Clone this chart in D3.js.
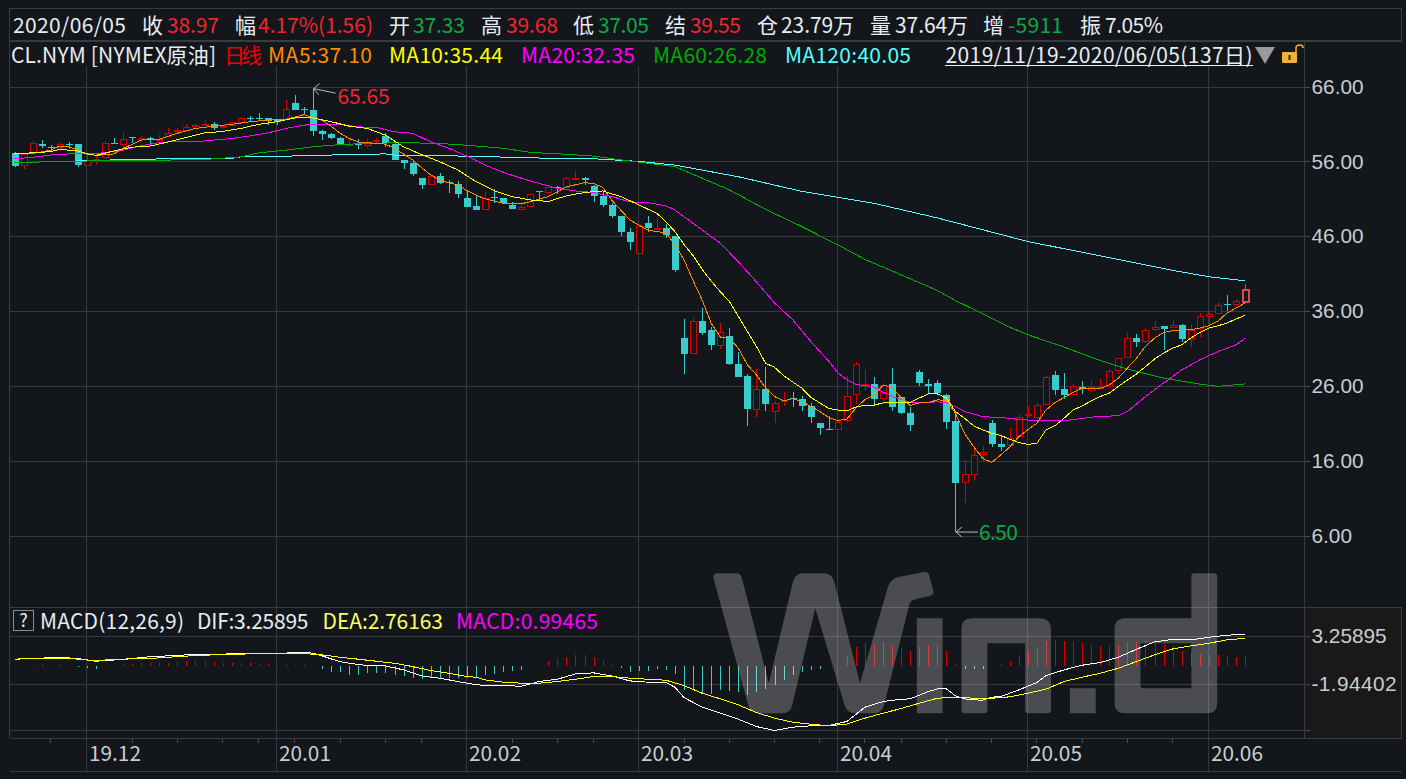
<!DOCTYPE html>
<html>
<head>
<meta charset="utf-8">
<script src="https://cdn.jsdelivr.net/npm/d3@7"></script>
<style>
  html, body { margin: 0; padding: 0; background: #13161b; overflow: hidden; }
  svg { display: block; font-family: "Noto Sans CJK SC", "Noto Sans", sans-serif; }
</style>
</head>
<body>
<svg id="chart"></svg>
<script>
// Daily bars, index 0 = 2019/11/19
let opens = [57.1,55.5,57.15,58.3,57.9,57.9,58.3,58.3,55.55,56.2,
  56.5,58.4,58.4,59.2,59.0,59.1,59.0,59.4,59.95,60.25,
  60.6,60.9,61.05,60.6,60.85,61.25,61.75,61.75,61.75,61.6,
  61.7,63.8,63.0,62.85,60.05,59.65,59.1,58.2,58.35,58.2,
  58.7,59.35,58.3,56.2,55.8,53.8,52.9,54.05,53.2,53.0,
  51.15,50.05,49.6,51.3,51.05,50.2,49.7,50.15,52.0,51.85,
  52.55,52.55,53.65,53.8,52.7,51.4,50.2,48.7,46.6,43.8,
  47.75,46.95,47.05,46.05,32.45,30.5,34.7,33.45,31.45,32.7,
  29.0,27.4,22.95,25.65,22.65,24.1,24.35,24.3,23.4,21.0,
  20.3,20.25,21.4,24.9,26.2,26.3,24.35,26.3,24.6,22.45,
  27.9,26.3,26.45,24.85,21.35,13.1,14.2,16.9,21.1,18.25,
  18.1,19.4,22.05,21.9,23.65,27.45,25.6,24.85,25.85,25.4,
  25.65,25.95,28.05,29.8,32.45,31.95,33.6,34.05,33.85,34.2,
  32.25,33.75,35.3,35.75,36.9,36.9,37.33];
let closes = [55.3,57.0,58.4,58.05,57.8,58.3,58.2,55.55,56.2,56.3,
  58.4,58.35,59.05,59.05,59.15,58.85,59.05,59.75,60.15,60.6,
  60.8,61.05,60.55,60.7,61.2,61.75,61.7,61.7,61.35,61.15,
  63.05,62.9,62.8,60.1,59.7,59.15,58.2,58.35,58.3,58.65,
  58.8,58.4,56.2,55.8,54.3,52.85,54.0,53.05,53.1,51.65,
  49.9,49.5,51.05,51.15,50.4,49.7,49.95,51.7,51.9,52.55,
  52.45,53.75,53.75,53.5,51.4,50.2,48.7,46.5,45.3,47.4,
  47.05,47.15,46.05,41.55,30.3,34.75,33.1,31.5,33.2,29.0,
  27.25,23.0,25.6,23.65,23.75,24.2,24.25,23.3,21.9,20.35,
  20.25,21.25,24.65,28.95,26.3,24.3,26.15,23.25,22.45,20.85,
  26.45,26.05,25.1,21.25,13.1,14.2,16.75,17.15,18.25,17.9,
  19.1,21.9,22.25,23.45,27.2,25.5,24.8,25.95,25.6,25.85,
  25.85,28.0,29.7,32.4,31.9,33.45,33.85,33.7,34.15,32.3,
  33.5,35.3,35.6,36.8,36.8,37.35,38.97];
let highs = [57.2,57.15,58.75,58.8,58.2,58.5,58.6,58.3,57.0,56.7,
  58.7,59.1,59.9,59.25,59.45,59.2,59.55,60.4,60.4,60.95,
  61.05,61.5,61.2,60.85,61.2,61.95,62.05,62.45,61.85,61.7,
  64.2,64.85,63.25,65.65,60.25,59.75,59.25,58.95,58.95,58.95,
  59.1,59.75,58.4,56.25,56.05,53.8,54.0,54.45,53.45,53.35,
  52.1,51.55,51.85,52.25,51.05,50.55,50.6,51.7,52.1,52.55,
  52.7,53.85,54.7,53.95,52.8,52.0,50.4,48.7,47.05,47.4,
  48.7,48.4,47.65,46.1,35.0,35.1,36.4,33.95,34.4,33.8,
  30.6,27.65,28.25,28.6,24.0,25.2,25.2,24.65,23.75,21.0,
  21.95,21.35,27.4,29.15,28.3,27.2,26.4,28.4,24.6,23.15,
  28.2,27.0,26.85,25.0,22.6,16.1,18.0,18.0,21.5,19.45,
  20.4,22.25,23.35,23.7,27.3,28.0,27.75,26.25,26.65,26.8,
  26.95,28.25,29.7,33.05,32.95,33.75,34.7,34.05,34.85,34.3,
  34.3,35.75,36.2,37.05,38.2,37.6,39.68];
let lows = [55.2,55.0,57.05,57.75,57.4,57.7,57.7,55.3,55.55,55.55,
  56.35,58.35,57.75,58.4,58.6,58.3,58.95,59.4,59.8,60.25,
  60.5,60.85,60.25,60.35,60.8,61.05,61.35,61.35,60.9,60.9,
  61.6,62.8,62.25,59.35,58.9,59.0,58.15,57.9,57.7,57.8,
  58.4,57.9,56.2,54.95,54.05,52.3,52.9,53.0,51.75,51.1,
  49.9,49.5,49.5,50.5,50.3,49.6,49.65,50.1,51.0,51.8,
  51.65,52.5,53.65,52.8,50.6,49.95,48.5,46.1,44.1,43.8,
  46.6,46.85,45.8,41.2,27.55,30.3,32.75,30.75,31.0,28.75,
  27.25,20.7,21.9,22.6,21.0,23.3,23.15,22.6,21.0,19.4,
  20.25,20.2,21.05,23.6,25.4,23.65,23.95,22.7,22.2,20.05,
  26.05,25.1,24.85,20.3,6.5,10.4,13.45,15.8,17.9,17.35,
  17.9,19.25,21.7,21.1,23.55,24.75,24.25,24.8,24.95,25.25,
  25.6,25.85,27.6,29.7,31.25,31.8,33.3,30.85,33.75,31.9,
  31.25,32.55,34.05,35.65,36.05,36.7,37.05];

// Moving averages as [bar index, value] read at the points where the line bends
let ma5 = [[0,57.0],[2,57.05],[4,57.5],[5,58.05],[6,57.95],[7,57.5],[8,57.0],[9,56.8],[11,57],[12,57.7],[14,58.85],[16,58.95],[18,59.75],[20,60.4],[22,60.7],[24,60.95],[26,61.3],[28,61.5],[30,61.6],[32,62.25],[33,61.85],[34,61.5],[35,60.7],[36,59.75],[37,59.05],[38,58.6],[39,58.5],[41,58.3],[42,57.75],[44,56.2],[45,55.15],[46,54.2],[47,53.5],[48,53.15],[49,52.85],[50,52.1],[51,51.5],[52,51],[54,50.4],[56,50.35],[57,50.6],[59,51.3],[61,52.6],[63,53.15],[64,53.05],[65,52.55],[66,50.85],[67,49.5],[68,48.2],[69,47.5],[70,46.85],[71,46.6],[72,46.5],[73,44.85],[74,42.85],[75,40.1],[76,37.5],[77,34.4],[78,32.55],[79,32.4],[80,31.05],[81,28.85],[82,27.5],[83,25.75],[84,24.6],[85,24.05],[86,24.3],[87,23.95],[88,23.3],[89,22.6],[90,21.8],[91,21.4],[92,21.6],[93,23.05],[94,24.2],[95,24.85],[96,26.1],[97,25.85],[98,24.4],[99,23.4],[100,23.75],[101,23.8],[102,24.15],[103,24.1],[104,22.35],[105,19.7],[106,17.9],[107,16.35],[108,15.8],[109,16.8],[110,17.85],[111,19.25],[112,20.15],[113,21.05],[114,22.8],[115,23.8],[116,24.45],[117,25.15],[118,25.7],[119,25.6],[120,25.7],[121,26.15],[122,27.05],[123,28.4],[124,29.7],[125,31.3],[126,32.4],[127,33.15],[128,33.4],[129,33.5],[130,33.5],[131,33.75],[132,34.05],[133,34.65],[134,35.75],[135,36.4],[136,37.1]];
let ma10 = [[0,57.0],[2,57.15],[4,57.3],[5,57.6],[7,57.4],[8,57.0],[9,56.8],[11,57.4],[13,57.9],[15,58.05],[17,58.6],[19,59.2],[21,59.8],[23,60.0],[25,60.4],[27,60.95],[29,61.3],[31,61.8],[33,61.8],[35,61.3],[37,60.7],[39,60.4],[41,59.5],[43,57.95],[45,56.9],[47,55.95],[49,54.85],[51,53.3],[53,52.1],[55,51.3],[57,50.85],[59,50.65],[61,51.4],[63,51.85],[65,52.05],[67,51.3],[69,50.2],[71,49.05],[72,47.95],[73,46.6],[74,44.9],[75,43.4],[76,41.6],[77,40.0],[78,38.6],[79,37.3],[80,35.3],[81,33.3],[82,31.3],[83,29.05],[84,28.5],[85,27.4],[86,26.55],[87,25.75],[88,24.5],[89,23.75],[90,23],[91,22.8],[92,22.7],[93,23.2],[94,23.45],[95,23.45],[96,23.75],[98,23.75],[99,23.8],[100,24.4],[101,24.95],[102,24.95],[103,24.4],[104,22.6],[105,21.7],[106,20.7],[107,20.15],[108,19.7],[109,19.4],[110,18.9],[111,18.45],[112,18.2],[113,18.35],[114,20.15],[115,20.7],[116,21.7],[117,22.8],[118,23.35],[119,24],[120,24.6],[121,25.05],[122,25.95],[123,26.8],[124,27.6],[125,28.6],[126,29.6],[127,30.4],[128,31.05],[129,31.5],[130,32.4],[131,33.15],[132,33.75],[133,34.05],[134,34.4],[135,34.95],[136,35.44]];
let ma20 = [[0,56.35],[2,56.55],[4,56.85],[6,57.0],[8,57.0],[10,57.15],[12,57.5],[14,58.1],[16,58.5],[18,58.7],[20,58.6],[22,58.85],[24,59.05],[26,59.4],[28,59.8],[30,60.4],[32,60.85],[34,60.95],[36,60.95],[38,60.6],[40,60.55],[42,59.95],[44,59.75],[46,58.6],[48,57.75],[50,56.7],[52,55.5],[54,54.55],[56,53.75],[58,53.05],[60,52.4],[62,52.05],[64,51.85],[66,51.3],[68,50.6],[70,50.5],[72,50.05],[73,49.5],[74,48.6],[76,46.85],[78,45.05],[80,42.6],[82,39.9],[84,37.1],[86,34.85],[88,31.95],[90,29.3],[91,27.75],[92,26.85],[93,26.2],[94,26.05],[95,25.85],[96,25.15],[97,24.6],[98,24.2],[99,23.8],[100,23.75],[101,23.8],[102,23.9],[103,23.75],[104,23.25],[105,22.6],[106,22.25],[107,21.9],[109,21.8],[111,21.55],[113,21.35],[115,21.35],[117,21.5],[119,21.85],[122,22.05],[123,22.6],[125,24.6],[127,26.4],[129,28.15],[131,29.5],[133,30.6],[135,31.5],[136,32.35]];
let ma60 = [[0,55.85],[4,55.95],[12,56.15],[20,56.2],[21,56.25],[25,56.6],[27,57.15],[30,57.5],[33,57.95],[36,58.25],[39,58.4],[43,58.5],[47,58.4],[50,58.15],[54,57.75],[57,57.2],[61,56.95],[64,56.7],[67,56.2],[70,55.75],[73,55.3],[76,53.75],[79,52.2],[83,49.6],[87,47.3],[91,44.85],[94,42.9],[98,40.85],[102,38.75],[104,37.4],[107,35.65],[110,33.85],[112,32.85],[116,31.2],[120,29.4],[123,28.25],[127,27.05],[131,26.25],[133,25.95],[136,26.28]];
let ma120 = [[0,55.85],[4,55.95],[11,56.2],[17,56.35],[24,56.4],[25,56.6],[30,56.7],[35,56.85],[41,57],[42,56.85],[50,56.7],[58,56.45],[64,56.35],[69,56],[73,55.5],[80,53.95],[87,52],[95,50.4],[102,48.45],[112,45.3],[122,42.9],[128,41.45],[132,40.6],[136,40.05]];

// MACD pane, [bar index, value]
let dif = [[0,0.69],[2,0.76],[5,0.9],[7,0.76],[9,0.47],[11,0.6],[13,0.76],[15,0.97],[17,1.05],[19,1.16],[21,1.23],[23,1.23],[25,1.34],[27,1.34],[29,1.26],[31,1.44],[32,1.44],[33,1.34],[34,1.05],[35,0.72],[36,0.43],[37,0.25],[39,0],[41,-0.04],[43,-0.47],[45,-1.12],[47,-1.37],[49,-1.73],[50,-1.91],[51,-2.06],[52,-2.17],[54,-2.17],[56,-2.24],[58,-1.73],[60,-1.48],[62,-0.9],[64,-0.79],[66,-1.12],[68,-1.66],[70,-1.8],[72,-1.84],[73,-2.35],[74,-3.47],[76,-4.51],[78,-5.16],[80,-5.81],[82,-6.61],[84,-7.04],[86,-6.68],[88,-6.53],[90,-6.5],[92,-6.06],[94,-4.51],[96,-3.9],[98,-3.65],[99,-3.61],[101,-2.82],[102,-2.53],[103,-2.53],[104,-3.29],[105,-3.61],[106,-3.72],[107,-3.75],[108,-3.43],[109,-3.36],[111,-2.64],[113,-1.84],[114,-1.08],[116,-0.47],[118,0.04],[120,0.32],[122,0.9],[124,1.77],[126,2.56],[128,2.85],[130,2.78],[132,3.07],[134,3.29],[136,3.39]];
let dea = [[0,0.69],[2,0.79],[4,0.79],[6,0.79],[8,0.6],[10,0.6],[12,0.69],[14,0.76],[16,0.83],[18,0.97],[20,1.08],[22,1.16],[24,1.23],[26,1.26],[28,1.26],[30,1.26],[32,1.3],[34,1.16],[36,0.9],[38,0.69],[40,0.47],[42,0.25],[44,-0.11],[46,-0.54],[48,-0.83],[50,-1.19],[51,-1.26],[52,-1.55],[54,-1.8],[56,-1.91],[58,-1.91],[60,-1.73],[62,-1.48],[64,-1.19],[66,-1.19],[68,-1.37],[70,-1.48],[72,-1.59],[74,-2.17],[76,-3],[78,-3.61],[80,-4.26],[82,-5.09],[84,-5.7],[86,-6.14],[88,-6.35],[90,-6.53],[92,-6.35],[94,-5.7],[96,-5.16],[98,-4.66],[100,-4.08],[102,-3.54],[104,-3.43],[106,-3.54],[108,-3.54],[110,-3.39],[112,-3.0],[114,-2.56],[116,-1.73],[118,-1.26],[120,-0.83],[122,-0.29],[124,0.43],[126,1.16],[128,1.8],[130,2.13],[132,2.42],[134,2.78],[136,2.95]];
let macdBars = [-0.07,0,0.07,0.1,0.1,0.1,0.1,-0.15,-0.25,-0.4,
  -0.1,0,0.15,0.15,0.25,0.25,0.25,0.3,0.4,0.45,
  0.5,0.45,0.35,0.3,0.25,0.25,0.25,0.2,0.2,0.1,
  0.1,0.1,0.1,-0.05,-0.35,-0.7,-0.75,-1.0,-1.0,-0.85,
  -0.85,-0.85,-1.0,-1.15,-1.3,-1.5,-1.35,-1.4,-1.3,-1.35,
  -1.3,-1.3,-1.0,-0.95,-0.7,-0.6,-0.5,-0.1,0.07,0.5,
  0.75,0.95,1.15,1.15,0.95,0.6,0.1,-0.3,-0.7,-0.6,
  -0.6,-0.4,-0.45,-0.9,-2.6,-2.7,-3.0,-3.1,-2.7,-2.8,
  -2.85,-3.2,-2.85,-2.5,-2.1,-1.55,-1.0,-0.65,-0.45,-0.35,
  -0.1,0,1.0,2.0,2.45,2.35,2.55,2.2,1.9,1.6,
  2.0,2.2,2.25,1.6,0.2,-0.35,-0.35,-0.35,0,0.2,
  0.45,1.15,1.55,2.0,2.65,2.8,2.7,2.65,2.4,2.25,
  2.1,2.1,2.25,2.6,2.6,2.65,2.6,2.35,2.15,1.6,
  1.35,1.25,1.1,1.15,1.05,0.95,0.99];

let priceTicks = [66, 56, 46, 36, 26, 16, 6];
let macdTicks = [3.25895, -1.94402];
let macdFloor = -7;
let monthBars = [8, 29, 50, 69, 91, 112, 132];
let monthLabels = ["19.12", "20.01", "20.02", "20.03", "20.04", "20.05", "20.06"];
let weekBars = [4, 13, 18, 23, 27, 31, 36, 41, 45, 55, 60, 64, 74, 79, 84, 89, 94, 98, 103, 108, 113, 118, 123, 128];

// Colors
let bg = "#13161b";
let gridc = "#36383c";
let cred = "#d40000";
let cteal = "#38cdcd";
let tred = "#f0252f";
let tgreen = "#0fa845";
let twhite = "#e8edf2";
let mOrange = "#ff8c00";
let mYellow = "#ffff00";
let mMagenta = "#ff00ff";
let mGreen = "#00aa00";
let mCyan = "#55ffff";

let width = 1406, height = 779;
let axisX = 1304.5;
let axisFont = 20.8;

let svg = d3.select("#chart").attr("width", width).attr("height", height);
svg.append("rect").attr("width", width).attr("height", height).attr("fill", bg);

let xax = d3.scaleLinear().domain([0, 136]).range([14.5, 1245]);
let yax = d3.scaleLinear().domain([66, 6]).range([86.5, 535.8]);
let ymacd = d3.scaleLinear().domain([3.25895, -1.94402]).range([635.5, 683.5]);
let bx = i => Math.round(xax(i));

drawFrame();
drawCandles();
drawMAs();
drawMacd();
drawWatermark();
drawTexts();

function hline(x1, x2, y, color) {
  svg.append("line").attr("x1", x1).attr("x2", x2).attr("y1", y).attr("y2", y)
    .attr("stroke", color || gridc).attr("shape-rendering", "crispEdges");
}
function vline(x, y1, y2, color) {
  svg.append("line").attr("x1", x).attr("x2", x).attr("y1", y1).attr("y2", y2)
    .attr("stroke", color || gridc).attr("shape-rendering", "crispEdges");
}

function drawFrame() {
  // warm patch behind the MACD scale
  svg.append("rect").attr("x", 1305).attr("y", 607).attr("width", 96).attr("height", 131).attr("fill", "#1a1818");

  // header boxes
  let boxc = "#3a3b3e";
  hline(9.5, 1401.5, 8.5, boxc);
  svg.append("line").attr("x1", 9).attr("x2", 1402).attr("y1", 40.5).attr("y2", 40.5)
    .attr("stroke", boxc).attr("stroke-width", 2).attr("shape-rendering", "crispEdges");
  vline(9.5, 8, 738, boxc);
  vline(1401.5, 8, 41, boxc);
  vline(1401.5, 607, 738, boxc);

  // panes
  hline(9.5, 1401.5, 607.5, boxc);
  hline(9.5, 1401.5, 738.5, boxc);
  hline(9.5, 1401.5, 771.5, boxc);
  vline(axisX, 41, 738, boxc);

  // grid
  svg.append("g").selectAll("line").data(priceTicks).join("line")
    .attr("x1", 10).attr("x2", axisX)
    .attr("y1", d => Math.round(yax(d)) + 0.5).attr("y2", d => Math.round(yax(d)) + 0.5)
    .attr("stroke", gridc).attr("shape-rendering", "crispEdges");
  svg.append("g").selectAll("line").data(macdTicks.concat([macdFloor])).join("line")
    .attr("x1", 10).attr("x2", axisX)
    .attr("y1", d => Math.round(ymacd(d)) + 0.5).attr("y2", d => Math.round(ymacd(d)) + 0.5)
    .attr("stroke", gridc).attr("shape-rendering", "crispEdges");
  svg.append("g").selectAll("line").data(monthBars).join("line")
    .attr("x1", d => bx(d) - 0.5).attr("x2", d => bx(d) - 0.5)
    .attr("y1", 66).attr("y2", 771)
    .attr("stroke", gridc).attr("shape-rendering", "crispEdges");

  // axes
  let ay = svg.append("g").attr("transform", `translate(${axisX},0)`)
    .call(d3.axisRight(yax).tickValues(priceTicks).tickFormat(d3.format(".2f")).tickSize(5).tickPadding(2));
  let am = svg.append("g").attr("transform", `translate(${axisX},0)`)
    .call(d3.axisRight(ymacd).tickValues(macdTicks.concat([macdFloor]))
      .tickFormat(d => d == macdFloor ? "" : d.toFixed(5)).tickSize(5).tickPadding(2));
  let ab = svg.append("g").attr("transform", "translate(-0.5,738.5)")
    .call(d3.axisBottom(xax).tickValues(weekBars).tickFormat("").tickSize(4));
  [ay, am, ab].forEach(a => {
    a.select(".domain").remove();
    a.selectAll("line").attr("stroke", "#4a4b4e").attr("shape-rendering", "crispEdges");
    a.selectAll("text").attr("fill", "#c9cdd2").attr("font-size", axisFont).attr("font-family", null);
  });
  am.selectAll("text").filter(d => d < 0 && d != macdFloor).attr("textLength", 85);

  // month labels
  svg.append("g").selectAll("text").data(monthLabels).join("text")
    .attr("x", (d, i) => bx(monthBars[i]) + 2)
    .attr("y", 761)
    .attr("fill", "#c9cdd2").attr("font-size", axisFont)
    .text(d => d);
}

function drawCandles() {
  let g = svg.append("g").attr("shape-rendering", "crispEdges");
  let last = opens.length - 1;
  let idx = d3.range(opens.length);
  let upc = i => (i == last) ? "#e0474c" : cred;
  let col = i => (closes[i] >= opens[i]) ? upc(i) : cteal;

  g.selectAll("line").data(idx).join("line")
    .attr("x1", i => bx(i) + 0.5).attr("x2", i => bx(i) + 0.5)
    .attr("y1", i => yax(highs[i])).attr("y2", i => yax(lows[i]))
    .attr("stroke", col);

  g.selectAll("rect").data(idx).join("rect")
    .attr("x", i => closes[i] >= opens[i] ? bx(i) - 3 + (i == last ? 0.5 : 0) : bx(i) - 3)
    .attr("y", i => {
      let t = Math.round(yax(Math.max(opens[i], closes[i])));
      return closes[i] >= opens[i] ? t + 0.5 : t;
    })
    .attr("width", i => closes[i] >= opens[i] ? 6 : 7)
    .attr("height", i => Math.max(1, Math.round(Math.abs(yax(opens[i]) - yax(closes[i])))))
    .attr("fill", i => closes[i] >= opens[i] ? bg : cteal)
    .attr("stroke", i => closes[i] >= opens[i] ? upc(i) : "none")
    .attr("stroke-width", i => i == last ? 2 : 1);
}

function drawMAs() {
  let line = d3.line().x(d => xax(d[0])).y(d => yax(d[1]));
  let series = [[ma120, mCyan], [ma60, mGreen], [ma20, mMagenta], [ma5, mOrange], [ma10, mYellow]];
  svg.append("g").selectAll("path").data(series).join("path")
    .attr("d", d => line(d[0]))
    .attr("fill", "none")
    .attr("stroke", d => d[1])
    .attr("stroke-width", 1)
    .attr("shape-rendering", "crispEdges");

  // high and low markers
  let hiBar = highs.indexOf(d3.max(highs));
  let loBar = lows.indexOf(d3.min(lows));
  let mark = svg.append("g").attr("fill", "none").attr("stroke", "#b9bcc0");
  let hx = xax(hiBar) + 0.5, hy = yax(highs[hiBar]) - 0.5;
  mark.append("path").attr("d", `M${hx + 22},${hy + 4.5} L${hx},${hy} M${hx + 6},${hy - 5} L${hx},${hy} L${hx + 5},${hy + 6}`);
  let lx = xax(loBar) + 0.5, ly = yax(lows[loBar]);
  mark.append("path").attr("d", `M${lx + 22},${ly} L${lx},${ly} M${lx + 6},${ly - 5} L${lx},${ly} L${lx + 6},${ly + 5}`);
  svg.append("text").attr("x", hx + 24).attr("y", hy + 15.5).attr("fill", tred).attr("font-size", 21)
    .attr("textLength", 52).text(d3.format(".2f")(highs[hiBar]));
  svg.append("text").attr("x", lx + 23).attr("y", ly + 8).attr("fill", tgreen).attr("font-size", 21)
    .attr("textLength", 39).text(d3.format(".2f")(lows[loBar]));
}

function drawMacd() {
  let g = svg.append("g").attr("shape-rendering", "crispEdges");
  g.selectAll("line").data(macdBars).join("line")
    .attr("x1", (d, i) => bx(i) + 0.5).attr("x2", (d, i) => bx(i) + 0.5)
    .attr("y1", ymacd(0)).attr("y2", d => ymacd(d))
    .attr("stroke", d => d >= 0 ? cred : cteal);

  let line = d3.line().x(d => xax(d[0])).y(d => ymacd(d[1]));
  svg.append("path").attr("d", line(dif)).attr("fill", "none").attr("stroke", "#ffffff").attr("shape-rendering", "crispEdges");
  svg.append("path").attr("d", line(dea)).attr("fill", "none").attr("stroke", mYellow).attr("shape-rendering", "crispEdges");
}

function drawWatermark() {
  // Wind logo, laid over the plot
  let logo = "M52,40 L105,40 Q118,40 122,55 L200,370 L270,65 Q277,40 300,40 L360,40 Q383,40 390,65 L465,370 L545,85 Q552,58 575,52 L650,36 Q664,34 666,46 L678,92 Q680,105 668,108 L625,118 Q612,121 608,135 L535,435 Q528,460 505,460 L450,460 Q428,460 420,435 L335,145 L268,435 Q262,460 240,460 L170,460 Q147,460 140,435 L40,58 Q36,40 52,40 Z "
    + "M630,175 L705,175 L705,460 L630,460 Z "
    + "M790,175 L985,175 Q1020,175 1020,210 L1020,450 Q1020,460 1010,460 L955,460 Q945,460 945,450 L945,250 L835,250 L835,450 Q835,460 825,460 L770,460 Q760,460 760,450 L760,205 Q760,175 790,175 Z "
    + "M1075,385 L1150,385 L1150,460 L1075,460 Z "
    + "M1438,40 L1493,40 Q1503,40 1503,50 L1503,430 Q1503,460 1473,460 L1235,460 Q1205,460 1205,430 L1205,205 Q1205,175 1235,175 L1428,175 L1428,50 Q1428,40 1438,40 Z "
    + "M1280,250 L1280,375 Q1280,385 1290,385 L1428,385 L1428,250 Z";
  svg.append("path")
    .attr("transform", "translate(700,560) scale(0.3441,0.33333)")
    .attr("d", logo)
    .attr("fill", "#ffffff")
    .attr("fill-opacity", 0.235)
    .attr("fill-rule", "evenodd");
}

function drawTexts() {
  let row = (items, y) => {
    let t = svg.append("g").selectAll("text").data(items).join("text")
      .attr("x", d => d[0]).attr("y", y)
      .attr("fill", d => d[2])
      .attr("font-size", 21)
      .text(d => d[1]);
    t.filter(d => d[3]).attr("textLength", d => d[3]);
  };
  row([
    [13, "2020/06/05", twhite, 113], [142, "收", twhite], [167, "38.97", tred, 52], [235, "幅", twhite],
    [258, "4.17%(1.56)", tred, 115], [389, "开", twhite], [413, "37.33", tgreen, 52], [481, "高", twhite],
    [506, "39.68", tred, 52], [573, "低", twhite], [598, "37.05", tgreen, 51], [665, "结", twhite],
    [690, "39.55", tred, 51], [757, "仓", twhite], [781, "23.79万", twhite, 73], [870, "量", twhite],
    [895, "37.64万", twhite, 73], [983, "增", twhite], [1008, "-5911", tgreen, 55], [1080, "振", twhite],
    [1105, "7.05%", twhite, 58]
  ], 33);
  row([
    [11, "CL.NYM [NYMEX原油]", twhite, 205], [224, "日线", "#f00000", 38], [268, "MA5:37.10", mOrange, 104],
    [389, "MA10:35.44", mYellow, 114], [521, "MA20:32.35", mMagenta, 114], [653, "MA60:26.28", mGreen, 114],
    [785, "MA120:40.05", mCyan, 126], [945.5, "2019/11/19-2020/06/05(137日)", twhite, 307]
  ], 63);
  hline(945, 1253, 65.5, twhite);

  // collapse triangle and lock
  svg.append("path").attr("d", "M1255,47 L1275,47 L1265,64 Z").attr("fill", "#9a9a9a");
  svg.append("rect").attr("x", 1282).attr("y", 52).attr("width", 15).attr("height", 11).attr("rx", 1).attr("fill", "#f0b23c");
  svg.append("rect").attr("x", 1288.5).attr("y", 55).attr("width", 2).attr("height", 5).attr("fill", "#3a2a08");
  svg.append("path").attr("d", "M1296,52 L1296,48 Q1296,45 1300,45 Q1303,45 1303,48").attr("fill", "none").attr("stroke", "#f0b23c").attr("stroke-width", 1.5);

  // MACD header
  svg.append("rect").attr("x", 13.5).attr("y", 610.5).attr("width", 20).attr("height", 20).attr("fill", "none").attr("stroke", "#8a8c90");
  svg.append("text").attr("x", 23.5).attr("y", 627).attr("text-anchor", "middle").attr("fill", twhite).attr("font-size", 18).text("?");
  row([
    [40, "MACD(12,26,9)", twhite, 144], [197, "DIF:3.25895", twhite, 111.5],
    [322.5, "DEA:2.76163", "#ffff66", 120.5], [456, "MACD:0.99465", mMagenta, 142]
  ], 629);
}
</script>
</body>
</html>
